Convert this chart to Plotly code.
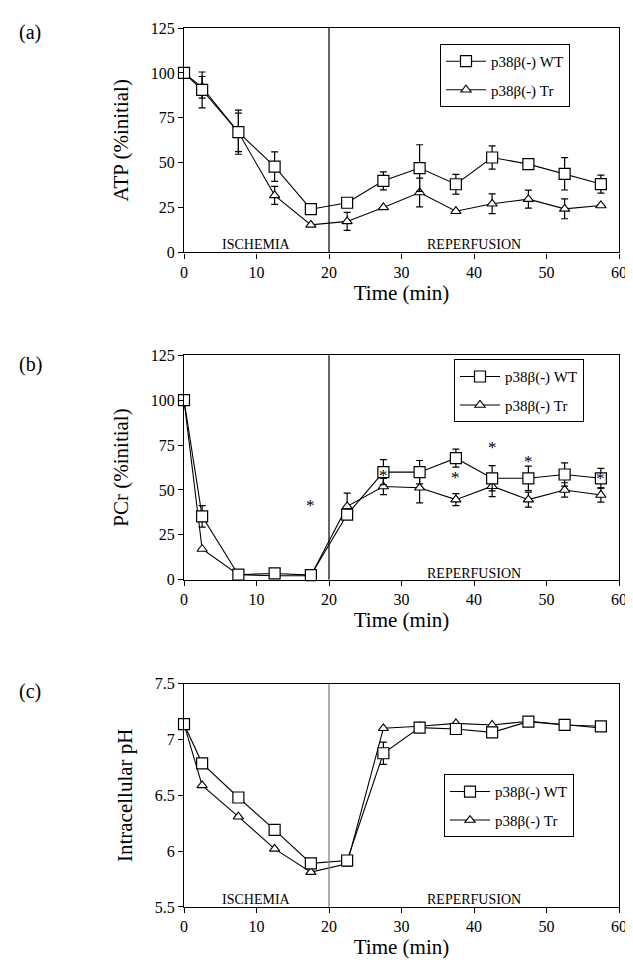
import plotly.graph_objects as go

# ---------------- data ----------------
time = [0, 2.5, 7.5, 12.5, 17.5, 22.5, 27.5, 32.5, 37.5, 42.5, 47.5, 52.5, 57.5]

atp_wt = [100, 90.5, 67, 47.8, 24.1, 27.7, 39.9, 47, 38, 52.9, 49.2, 43.8, 38.1]
atp_wt_err = [0, 10, 12.3, 8.2, 0, 0, 5, 13, 5.5, 6.5, 0, 9, 5]
atp_tr = [100, 92, 66.9, 31.8, 15.4, 17.3, 25.1, 33.4, 23, 27.1, 29.7, 24.3, 26.2]
atp_tr_err = [0, 6, 10.7, 5, 0, 5, 0, 8, 0, 5.5, 5, 5.5, 0]

pcr_wt = [100, 35.3, 2.8, 3.5, 2.6, 36.3, 59.9, 59.9, 67.7, 56.5, 56.5, 58.6, 56.5]
pcr_wt_err = [0, 6, 0, 0, 0, 0, 7, 6.5, 5, 7, 6.8, 6.5, 5.5]
pcr_tr = [100, 17.1, 2.8, 2.2, 2.2, 40.9, 51.9, 51.2, 44.6, 52.1, 44.6, 50, 47.2]
pcr_tr_err = [0, 0, 0, 0, 0, 7.3, 4.5, 8.4, 3.3, 5.8, 4.2, 4, 4]
star_x = [17.5, 27.5, 37.5, 42.5, 47.5, 57.5]
star_y = [43.2, 59.9, 58.6, 75.1, 67.3, 58]

ph_wt = [7.137, 6.786, 6.48, 6.19, 5.89, 5.916, 6.876, 7.105, 7.093, 7.063, 7.159, 7.129, 7.117]
ph_wt_err = [0, 0, 0, 0, 0, 0, 0.1, 0, 0, 0, 0, 0, 0]
ph_tr = [7.137, 6.588, 6.308, 6.02, 5.812, 5.886, 7.099, 7.117, 7.143, 7.129, 7.162, 7.129, 7.102]
ph_tr_err = [0] * 13

label_wt = "p38β(-) WT"
label_tr = "p38β(-) Tr"
x_ticks = [0, 10, 20, 30, 40, 50, 60]
y_ticks_pct = [0, 25, 50, 75, 100, 125]
y_ticks_ph = [5.5, 6, 6.5, 7, 7.5]

FONT = "Liberation Serif, Times New Roman, serif"

fig = go.Figure()

panels = [
    (atp_wt, atp_wt_err, atp_tr, atp_tr_err, "x", "y", "legend"),
    (pcr_wt, pcr_wt_err, pcr_tr, pcr_tr_err, "x2", "y2", "legend2"),
    (ph_wt, ph_wt_err, ph_tr, ph_tr_err, "x3", "y3", "legend3"),
]

for k, (wt, wte, tr, tre, xa, ya, lg) in enumerate(panels):
    fig.add_trace(go.Scatter(
        x=time, y=tr, mode="lines+markers", name=label_tr, legend=lg,
        legendgroup="tr%d" % k, legendrank=2,
        xaxis=xa, yaxis=ya, cliponaxis=False,
        line=dict(color="black", width=1.1),
        marker=dict(symbol="triangle-up", size=9, color="white",
                    line=dict(color="black", width=1.1)),
        error_y=dict(type="data", array=tre, visible=True, color="black",
                     thickness=1.2, width=3.5),
    ))
    fig.add_trace(go.Scatter(
        x=time, y=wt, mode="lines+markers", name=label_wt, legend=lg,
        legendgroup="wt%d" % k, legendrank=1,
        xaxis=xa, yaxis=ya, cliponaxis=False,
        line=dict(color="black", width=1.1),
        marker=dict(symbol="square", size=11, color="white",
                    line=dict(color="black", width=1.2)),
        error_y=dict(type="data", array=wte, visible=True, color="black",
                     thickness=1.2, width=3.5),
    ))

# significance asterisks
for sx, sy in zip(star_x, star_y):
    fig.add_annotation(x=sx, y=sy, xref="x2", yref="y2", text="*", showarrow=False,
                       font=dict(family=FONT, size=17, color="black"),
                       yshift=-3)

# layout geometry
L, R, T, B = 176, 22, 18, 61
H = 960 - T - B
W = 633 - L - R


def frac(py):
    return (960 - B - py) / H


doms = [(frac(243), frac(18)), (frac(571), frac(346)), (frac(899), frac(675))]

tickfont = dict(family=FONT, size=16, color="black")
titlefont = dict(family=FONT, size=21, color="black")

axis_common = dict(showline=True, linecolor="black", linewidth=1.3, mirror=True,
                   ticks="outside", ticklen=5, tickcolor="black", tickwidth=1.2,
                   showgrid=False, zeroline=False, tickfont=tickfont)

layout = dict(
    width=633, height=960,
    margin=dict(l=L, r=R, t=T, b=B),
    paper_bgcolor="white", plot_bgcolor="white",
    font=dict(family=FONT, color="black"),
)

ytitles = ["ATP (%initial)", "PCr (%initial)", "Intracellular pH"]
for i in range(3):
    sfx = "" if i == 0 else str(i + 1)
    layout["xaxis" + sfx] = dict(
        axis_common, domain=[0, 1], range=[0, 60], tickvals=x_ticks,
        anchor="y" + sfx,
        title=dict(text="Time (min)", font=titlefont, standoff=3),
    )
    if i < 2:
        yr, yt = [0, 125], y_ticks_pct
    else:
        yr, yt = [5.5, 7.5], y_ticks_ph
    layout["yaxis" + sfx] = dict(
        axis_common, domain=list(doms[i]), range=yr, tickvals=yt,
        anchor="x" + sfx,
        title=dict(text=ytitles[i], font=dict(family=FONT, size=21, color="black"),
                   standoff=16),
    )

leg_common = dict(bgcolor="white", bordercolor="black", borderwidth=1,
                  font=dict(family=FONT, size=15, color="black"),
                  xanchor="left", yanchor="top", traceorder="grouped",
                  itemwidth=40, tracegroupgap=6, entrywidth=110,
                  entrywidthmode="pixels")
layout["legend"] = dict(leg_common, x=(432 - L) / W, y=frac(34))
layout["legend2"] = dict(leg_common, x=(446 - L) / W, y=frac(350))
layout["legend3"] = dict(leg_common, x=(436 - L) / W, y=frac(766))

fig.update_layout(**layout)

# vertical separators at 20 min
for i, col in enumerate(["black", "black", "#777777"]):
    sfx = "" if i == 0 else str(i + 1)
    fig.add_shape(type="line", xref="x" + sfx, yref="y" + sfx + " domain",
                  x0=20, x1=20, y0=0, y1=1, line=dict(color=col, width=1.2))

# phase labels
phase_font = dict(family=FONT, size=14, color="black")
fig.add_annotation(x=10, y=4.6, xref="x", yref="y", text="ISCHEMIA",
                   showarrow=False, font=phase_font)
fig.add_annotation(x=40, y=4.6, xref="x", yref="y", text="REPERFUSION",
                   showarrow=False, font=phase_font)
fig.add_annotation(x=40, y=3.6, xref="x2", yref="y2", text="REPERFUSION",
                   showarrow=False, font=phase_font)
fig.add_annotation(x=10, y=5.57, xref="x3", yref="y3", text="ISCHEMIA",
                   showarrow=False, font=phase_font)
fig.add_annotation(x=40, y=5.57, xref="x3", yref="y3", text="REPERFUSION",
                   showarrow=False, font=phase_font)

# panel letters
for lab, py in [("(a)", 23), ("(b)", 355), ("(c)", 683)]:
    fig.add_annotation(x=(22 - L) / W, y=frac(py), xref="paper", yref="paper",
                       text=lab, showarrow=False, xanchor="center", yanchor="middle",
                       font=dict(family=FONT, size=20, color="black"))

fig.write_html("out.html")
